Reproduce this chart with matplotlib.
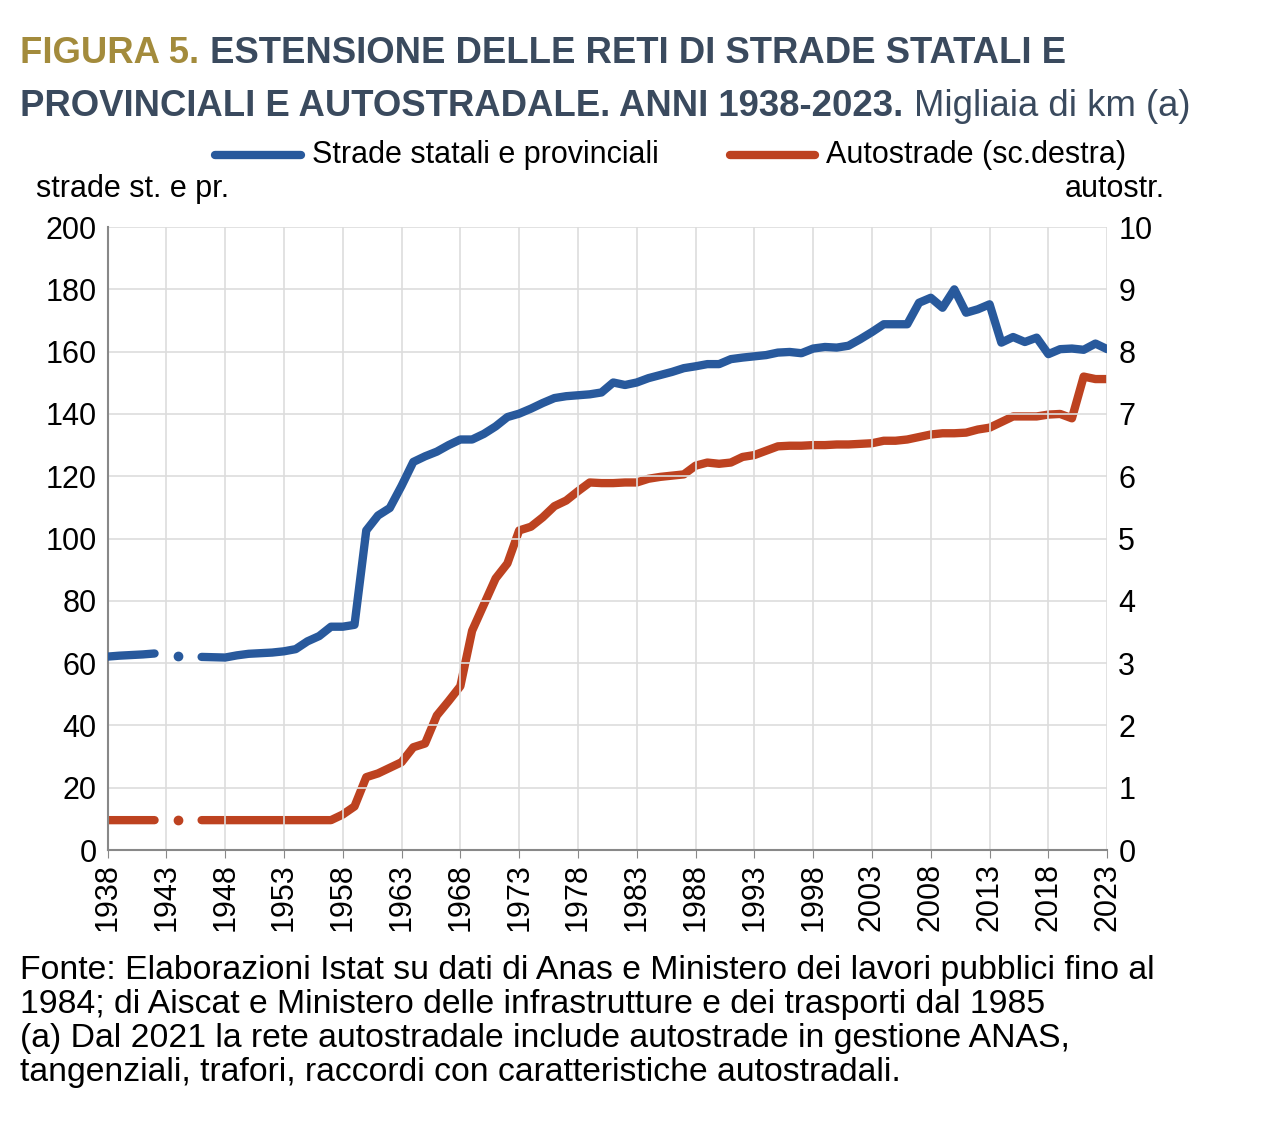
import numpy as np
import matplotlib
matplotlib.use("Agg")
import matplotlib.pyplot as plt

years = list(range(1938, 2024))
strade = [62.1, 62.4, 62.6, 62.8, 63.1, np.nan, 62.4, np.nan, 62.0, 61.9, 61.8, 62.5, 63.0, 63.2, 63.4,
          63.8, 64.5, 67.0, 68.7, 71.7, 71.7, 72.3, 102.6, 107.4, 109.8, 116.9, 124.6, 126.4, 127.9, 130.0,
          131.8, 131.8, 133.6, 136.0, 139.0, 140.1, 141.7, 143.5, 145.1, 145.7, 146.0, 146.3, 146.9, 150.1,
          149.3, 150.1, 151.5, 152.5, 153.5, 154.7, 155.3, 156.0, 156.0, 157.6, 158.1, 158.5, 158.9, 159.7,
          159.9, 159.5, 161.0, 161.5, 161.3, 161.9, 164.0, 166.3, 168.8, 168.8, 168.8, 175.7, 177.3, 174.1,
          180.0, 172.5, 173.6, 175.2, 162.9, 164.7, 163.1, 164.5, 159.2, 160.8, 161.0, 160.6, 162.6, 160.8]
autostrade = [0.48, 0.48, 0.48, 0.48, 0.48, np.nan, 0.48, np.nan, 0.48, 0.48, 0.48, 0.48, 0.48, 0.48, 0.48,
              0.48, 0.48, 0.48, 0.48, 0.48, 0.57, 0.70, 1.17, 1.23, 1.32, 1.41, 1.65, 1.71, 2.16, 2.39,
              2.63, 3.52, 3.94, 4.36, 4.60, 5.13, 5.19, 5.34, 5.52, 5.61, 5.76, 5.90, 5.89, 5.89,
              5.90, 5.90, 5.96, 5.99, 6.01, 6.03, 6.17, 6.22, 6.20, 6.22, 6.31, 6.34, 6.41, 6.48,
              6.49, 6.49, 6.50, 6.50, 6.51, 6.51, 6.52, 6.53, 6.57, 6.57, 6.59, 6.63, 6.67, 6.69,
              6.69, 6.70, 6.75, 6.78, 6.87, 6.96, 6.96, 6.96, 6.99, 7.00, 6.93, 7.60, 7.56, 7.56]
xticks = list(range(1938, 2024, 5))

FAM = ['Liberation Sans', 'DejaVu Sans']
plt.rcParams['font.family'] = FAM
fig = plt.figure(figsize=(12.8, 11.41), dpi=100)
ax = fig.add_axes([0.084, 0.255, 0.781, 0.546])
ax2 = ax.twinx()

blue, red = '#28599c', '#bd4220'
ax.plot(years, strade, color=blue, lw=6, solid_capstyle='round', solid_joinstyle='round', zorder=3)
ax2.plot(years, autostrade, color=red, lw=6, solid_capstyle='round', solid_joinstyle='round', zorder=3)
ax.set_zorder(ax2.get_zorder() + 1)
ax.patch.set_visible(False)
ax.plot([1944], [62.4], 'o', color=blue, ms=6)
ax2.plot([1944], [0.48], 'o', color=red, ms=6)

ax.set_xlim(1938, 2023)
ax.set_ylim(0, 200)
ax2.set_ylim(0, 10)
ax.set_yticks(range(0, 201, 20))
ax2.set_yticks(range(0, 11))
ax.set_xticks(xticks)
ax.set_xticklabels([str(y) for y in xticks], rotation=90, fontsize=22)
ax.tick_params(axis='y', labelsize=22, length=0, pad=8)
ax2.tick_params(axis='y', labelsize=22, length=0, pad=8)
ax.tick_params(axis='x', length=6, color='#888888', direction='out')
ax.grid(True, color='#dddddd', lw=1.2)
ax.set_axisbelow(True)
for a in (ax, ax2):
    for s in ('top', 'right'):
        a.spines[s].set_visible(False)
    a.spines['left'].set_visible(a is ax)
ax.spines['left'].set_color('#888888'); ax.spines['left'].set_linewidth(1.5)
ax.spines['bottom'].set_color('#888888'); ax.spines['bottom'].set_linewidth(1.5)
ax2.spines['bottom'].set_visible(False)

fig.text(0.028, 0.827, 'strade st. e pr.', fontsize=22, ha='left', va='baseline')
fig.text(0.910, 0.827, 'autostr.', fontsize=22, ha='right', va='baseline')

# legend
fig.add_artist(plt.Line2D([0.168, 0.235], [0.864, 0.864], color=blue, lw=6, solid_capstyle='round'))
fig.text(0.244, 0.864, 'Strade statali e provinciali', fontsize=22, va='center')
fig.add_artist(plt.Line2D([0.570, 0.637], [0.864, 0.864], color=red, lw=6, solid_capstyle='round'))
fig.text(0.645, 0.864, 'Autostrade (sc.destra)', fontsize=22, va='center')

# title
tc = '#3a4a5e'
TS = 26.3
t1 = fig.text(0.016, 0.945, 'FIGURA 5. ', fontsize=TS, fontweight='bold', color='#a38b3c', va='baseline')
fig.canvas.draw()
x1 = t1.get_window_extent().x1 / fig.bbox.width
fig.text(x1, 0.945, 'ESTENSIONE DELLE RETI DI STRADE STATALI E', fontsize=TS, fontweight='bold', color=tc, va='baseline')
t3 = fig.text(0.016, 0.898, 'PROVINCIALI E AUTOSTRADALE. ANNI 1938-2023. ', fontsize=TS, fontweight='bold', color=tc, va='baseline')
fig.canvas.draw()
x3 = t3.get_window_extent().x1 / fig.bbox.width
fig.text(x3, 0.898, 'Migliaia di km (a)', fontsize=TS, color=tc, va='baseline')

foot = ("Fonte: Elaborazioni Istat su dati di Anas e Ministero dei lavori pubblici fino al\n"
        "1984; di Aiscat e Ministero delle infrastrutture e dei trasporti dal 1985\n"
        "(a) Dal 2021 la rete autostradale include autostrade in gestione ANAS,\n"
        "tangenziali, trafori, raccordi con caratteristiche autostradali.")
fig.text(0.016, 0.163, foot, fontsize=24.3, va='top', linespacing=1.12)

fig.savefig('out.png', dpi=100)
